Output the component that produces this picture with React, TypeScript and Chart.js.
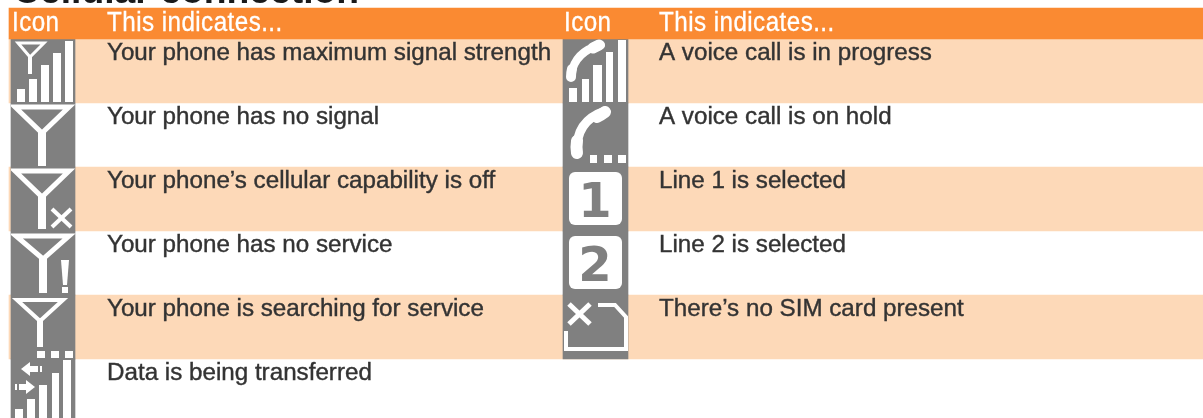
import React, { useEffect, useRef } from "react";
import { Chart, registerables } from "chart.js";

Chart.register(...registerables);

const titleText = "Cellular connection";
const headerIcon = "Icon";
const headerMeaning = "This indicates...";
const leftMeanings = [
  "Your phone has maximum signal strength",
  "Your phone has no signal",
  "Your phone’s cellular capability is off",
  "Your phone has no service",
  "Your phone is searching for service",
  "Data is being transferred",
];
const rightMeanings = [
  "A voice call is in progress",
  "A voice call is on hold",
  "Line 1 is selected",
  "Line 2 is selected",
  "There’s no SIM card present",
];
const leftIcons = ["signal", "noSignal", "off", "noService", "searching", "data"];
const rightIcons = ["voice", "hold", "line1", "line2", "noSim"];
const shadedRows = [0, 2, 4];

const W = 1203;
const H = 418;
const ROW = 64;
const HEAD_TOP = 39;
const BODY_FONT = '24.2px "Liberation Sans"';

type Ctx = CanvasRenderingContext2D;

function bars(c: Ctx, xs: number[][], tops: number[], bottom: number) {
  xs.forEach((x, i) => c.fillRect(x[0], tops[i], x[1] - x[0], bottom - tops[i]));
}
function poly(c: Ctx, pts: number[][], lw: number, close = false) {
  c.lineWidth = lw;
  c.beginPath();
  pts.forEach((p, i) => (i ? c.lineTo(p[0], p[1]) : c.moveTo(p[0], p[1])));
  if (close) c.closePath();
  c.stroke();
}
function antenna(c: Ctx, l: number, r: number, top: number, ax: number, ay: number, bottom: number, lw: number, stem: number) {
  poly(c, [[l, top], [r, top], [ax, ay]], lw, true);
  c.fillRect(ax - stem / 2, ay - 2, stem, bottom - ay + 2);
}
function dots(c: Ctx, xs: number[][], y0: number, y1: number) {
  xs.forEach((x) => c.fillRect(x[0], y0, x[1] - x[0], y1 - y0));
}
function rounded(c: Ctx, x: number, y: number, w: number, h: number, r: number) {
  c.beginPath();
  c.roundRect(x, y, w, h, r);
  c.fill();
}
function handset(c: Ctx, a: number[], k: number[], b: number[], lw: number) {
  c.lineCap = "round";
  c.lineWidth = lw;
  c.beginPath();
  c.moveTo(a[0], a[1]);
  c.quadraticCurveTo(k[0], k[1], b[0], b[1]);
  c.stroke();
  c.lineCap = "butt";
}

const painters: Record<string, (c: Ctx) => void> = {
  signal(c) {
    antenna(c, 7, 33, 4, 19, 18, 35, 3, 4);
    bars(c, [[6, 14], [18, 26], [30, 38], [42, 50], [54, 62]], [50, 40, 26, 14, 2], 63);
  },
  noSignal(c) {
    antenna(c, 4, 58, 4, 31, 30, 63, 5, 8);
  },
  off(c) {
    antenna(c, 4, 58, 4, 31, 30, 62, 5, 8);
    poly(c, [[41, 42], [60, 60]], 4);
    poly(c, [[60, 42], [41, 60]], 4);
  },
  noService(c) {
    antenna(c, 5, 58, 5, 32, 28, 62, 5, 8);
    c.beginPath();
    c.moveTo(50, 29); c.lineTo(58, 29); c.lineTo(56, 54); c.lineTo(52, 54);
    c.closePath();
    c.fill();
    c.fillRect(51, 56, 6, 6);
  },
  searching(c) {
    antenna(c, 6, 52, 5, 29, 26, 52, 4, 6);
    dots(c, [[26, 34], [40, 48], [54, 62]], 56, 63);
  },
  data(c) {
    bars(c, [[4, 12], [16, 24], [28, 36], [41, 48], [52, 60]], [50, 40, 26, 14, 1], 64);
    c.beginPath();
    c.moveTo(10, 10); c.lineTo(19, 3); c.lineTo(19, 17);
    c.closePath();
    c.fill();
    c.fillRect(19, 7, 8, 6);
    c.fillRect(29, 7, 2, 6);
    c.beginPath();
    c.moveTo(24, 28); c.lineTo(15, 21); c.lineTo(15, 35);
    c.closePath();
    c.fill();
    c.fillRect(8, 25, 7, 6);
    c.fillRect(4, 25, 2, 6);
  },
  voice(c) {
    handset(c, [38, 6], [12, 12], [8, 36], 8);
    handset(c, [36, 6], [32, 8], [30, 9], 11);
    handset(c, [8, 38], [8, 34], [9, 30], 10);
    bars(c, [[6, 14], [19, 26], [30, 39], [43, 50], [55, 63]], [49, 40, 26, 13, 1], 63);
  },
  hold(c) {
    handset(c, [42, 8], [12, 18], [14, 50], 9);
    handset(c, [42, 9], [38, 12], [34, 14], 12);
    handset(c, [14, 50], [13, 44], [14, 38], 12);
    dots(c, [[27, 34], [41, 49], [55, 63]], 52, 60);
  },
  line1(c) {
    rounded(c, 6, 5, 53, 53, 6);
    digit(c, "1");
  },
  line2(c) {
    rounded(c, 6, 5, 53, 53, 6);
    digit(c, "2");
  },
  noSim(c) {
    poly(c, [[6, 9], [27, 29]], 5);
    poly(c, [[27, 9], [6, 29]], 5);
    poly(c, [[35, 10], [52, 10], [63, 22], [63, 54], [3, 54], [3, 36]], 4);
  },
};

function digit(c: Ctx, d: string) {
  c.save();
  c.fillStyle = "#808080";
  c.font = 'bold 48px "DejaVu Sans"';
  c.textAlign = "center";
  c.textBaseline = "alphabetic";
  c.fillText(d, 32, 50);
  c.restore();
}

function label(c: Ctx, t: string, x: number, y: number, heavy: number, yScale = 1) {
  c.save();
  c.translate(x, y);
  c.scale(1, yScale);
  c.lineWidth = heavy;
  c.strokeStyle = c.fillStyle;
  c.strokeText(t, 0, 0);
  c.fillText(t, 0, 0);
  c.restore();
}

const tablePlugin = {
  id: "tableContent",
  afterDatasetsDraw(chart: any) {
    const c: Ctx = chart.ctx;
    const sx = chart.scales.x;
    const sy = chart.scales.y;
    c.save();
    // clipped page title above the table
    c.fillStyle = "#1a1a1a";
    c.font = 'bold 37.3px "Liberation Sans"';
    c.textBaseline = "alphabetic";
    c.fillText(titleText, 13, 3);

    // header
    c.fillStyle = "#ffffff";
    c.font = BODY_FONT;
    (c as any).letterSpacing = "0.45px";
    const headY = sy.getPixelForValue(-0.12);
    label(c, headerIcon, sx.getPixelForValue(12), headY, 0.3, 1.12);
    label(c, headerMeaning, sx.getPixelForValue(107), headY, 0.3, 1.12);
    label(c, headerIcon, sx.getPixelForValue(564), headY, 0.3, 1.12);
    label(c, headerMeaning, sx.getPixelForValue(659), headY, 0.3, 1.12);
    (c as any).letterSpacing = "0px";

    // meanings
    c.fillStyle = "#333333";
    leftMeanings.forEach((t, i) => label(c, t, sx.getPixelForValue(107), sy.getPixelForValue(i) + 21, 0.4));
    rightMeanings.forEach((t, i) => label(c, t, sx.getPixelForValue(659), sy.getPixelForValue(i) + 21, 0.4));

    // icons
    const draw = (name: string, i: number, x0: number) => {
      c.save();
      c.beginPath();
      c.rect(sx.getPixelForValue(x0), sy.getPixelForValue(i), 65, ROW);
      c.clip();
      c.translate(sx.getPixelForValue(x0), sy.getPixelForValue(i));
      c.fillStyle = "#ffffff";
      c.strokeStyle = "#ffffff";
      c.lineJoin = "miter";
      painters[name](c);
      c.restore();
    };
    leftIcons.forEach((n, i) => draw(n, i, 11));
    rightIcons.forEach((n, i) => draw(n, i, 563));
    c.restore();
  },
};

export default function App() {
  const ref = useRef<HTMLCanvasElement>(null);
  useEffect(() => {
    document.body.style.margin = "0";
    const chart = new Chart(ref.current!, {
      type: "bar",
      data: {
        datasets: [
          {
            label: "Header",
            data: [{ x: [9, W], y: -HEAD_TOP / ROW + (39 - 8) / ROW / 2 + 8 / ROW }] as any,
            backgroundColor: "#fa8a32",
            barThickness: 31,
            grouped: false,
          } as any,
          {
            label: "Shaded rows",
            data: shadedRows.map((r) => ({ x: [9, W], y: r + 0.5 })) as any,
            backgroundColor: "#fdd9b8",
            barThickness: ROW,
            grouped: false,
            order: 3,
          } as any,
          {
            label: "Left icon column",
            data: leftIcons.map((_, i) => ({ x: [11, 75], y: i + 0.5 })) as any,
            backgroundColor: "#808080",
            barThickness: ROW,
            grouped: false,
            order: 1,
          } as any,
          {
            label: "Right icon column",
            data: rightIcons.map((_, i) => ({ x: [563, 628], y: i + 0.5 })) as any,
            backgroundColor: "#808080",
            barThickness: ROW,
            grouped: false,
            order: 1,
          } as any,
        ],
      },
      options: {
        indexAxis: "y",
        animation: false,
        responsive: false,
        parsing: { xAxisKey: "x", yAxisKey: "y" },
        layout: { padding: 0 },
        plugins: { legend: { display: false }, title: { display: false }, tooltip: { enabled: false } },
        scales: {
          x: { type: "linear", min: 0, max: W, display: false },
          y: { type: "linear", min: -HEAD_TOP / ROW, max: (H - HEAD_TOP) / ROW, display: false, reverse: true, offset: false },
        },
      } as any,
      plugins: [tablePlugin as any],
    });
    return () => chart.destroy();
  }, []);
  return <canvas ref={ref} width={W} height={H} style={{ display: "block" }} />;
}
